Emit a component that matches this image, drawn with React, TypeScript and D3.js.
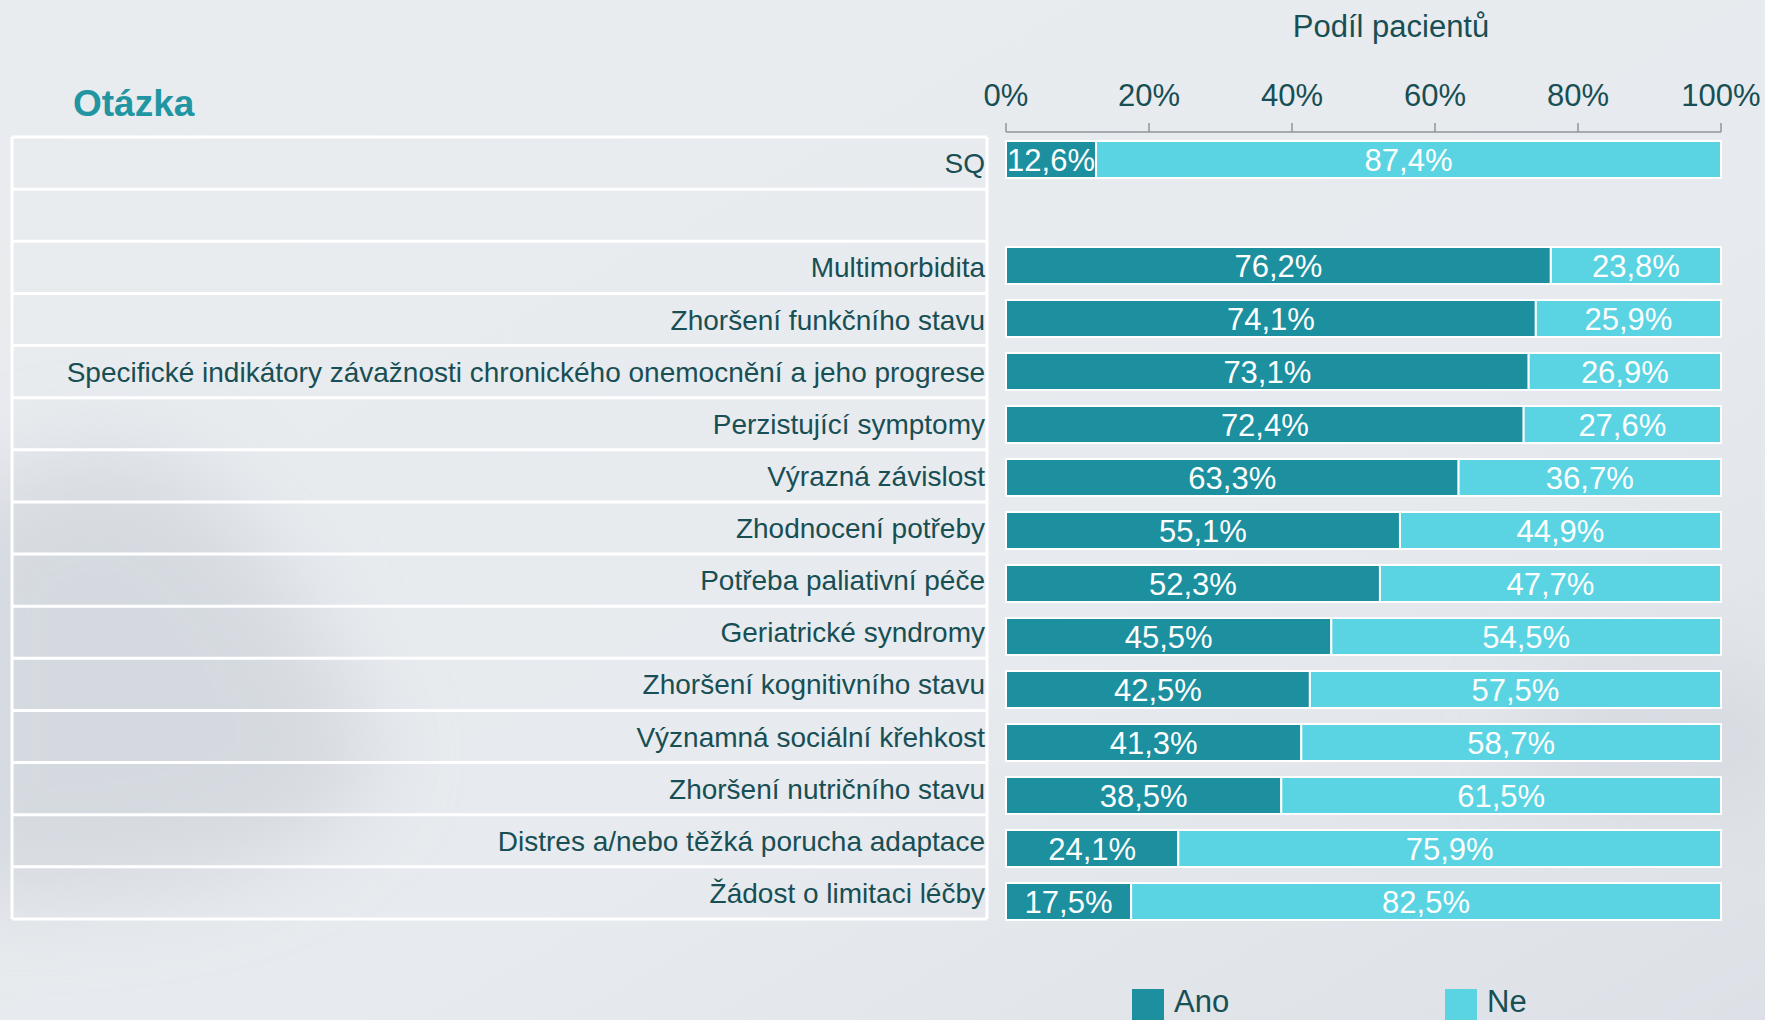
import React, { useEffect, useRef } from "react";
import * as d3 from "d3";

// chart values
const questions = [
  "SQ",
  "",
  "Multimorbidita",
  "Zhoršení funkčního stavu",
  "Specifické indikátory závažnosti chronického onemocnění a jeho progrese",
  "Perzistující symptomy",
  "Výrazná závislost",
  "Zhodnocení potřeby",
  "Potřeba paliativní péče",
  "Geriatrické syndromy",
  "Zhoršení kognitivního stavu",
  "Významná sociální křehkost",
  "Zhoršení nutričního stavu",
  "Distres a/nebo těžká porucha adaptace",
  "Žádost o limitaci léčby",
];
const anoValues = [12.6, null, 76.2, 74.1, 73.1, 72.4, 63.3, 55.1, 52.3, 45.5, 42.5, 41.3, 38.5, 24.1, 17.5];
const neValues = [87.4, null, 23.8, 25.9, 26.9, 27.6, 36.7, 44.9, 47.7, 54.5, 57.5, 58.7, 61.5, 75.9, 82.5];
const tickValues = [0, 20, 40, 60, 80, 100];
const seriesNames = ["Ano", "Ne"];

const W = 1765;
const H = 1020;
const FONT = "'Liberation Sans', Arial, sans-serif";
const TEXT = "#174f54";
const DARK = "#1c909f";
const LIGHT = "#5ad4e2";

const App = () => {
  const svgRef = useRef(null);

  useEffect(() => {
    const svg = d3.select(svgRef.current);
    svg.selectAll("*").remove();

    // background
    const defs = svg.append("defs");
    const bg = defs.append("linearGradient").attr("id", "bg").attr("x1", 0).attr("y1", 0).attr("x2", 1).attr("y2", 1);
    bg.append("stop").attr("offset", "0%").attr("stop-color", "#e9ecef");
    bg.append("stop").attr("offset", "60%").attr("stop-color", "#e7eaee");
    bg.append("stop").attr("offset", "100%").attr("stop-color", "#dde1e7");
    defs.append("filter").attr("id", "blur")
      .attr("x", "-50%").attr("y", "-50%").attr("width", "200%").attr("height", "200%")
      .append("feGaussianBlur").attr("stdDeviation", 45);

    svg.append("rect").attr("width", W).attr("height", H).attr("fill", "url(#bg)");
    // misty hills on the left and right
    svg.append("path")
      .attr("d", "M-60,520 C40,440 140,430 220,500 C280,560 330,650 380,760 C330,860 200,900 -60,900 Z")
      .attr("fill", "#c6ccd4").attr("opacity", 0.55).attr("filter", "url(#blur)");
    svg.append("path")
      .attr("d", "M1540,680 C1620,650 1700,660 1800,690 L1800,800 L1540,800 Z")
      .attr("fill", "#cdd2d9").attr("opacity", 0.5).attr("filter", "url(#blur)");

    const x = d3.scaleLinear().domain([0, 100]).range([1006, 1721]);
    const yBar = d3.scaleBand().domain(questions.map((d, i) => i)).range([133, 928]).paddingInner(0.302).paddingOuter(0.151);
    const yRow = d3.scaleBand().domain(questions.map((d, i) => i)).range([137, 919]);

    // table on the left
    const table = svg.append("g");
    table.selectAll(".row-line")
      .data(d3.range(questions.length + 1))
      .enter()
      .append("line")
      .attr("x1", 12)
      .attr("x2", 987)
      .attr("y1", (d) => 137 + d * yRow.step())
      .attr("y2", (d) => 137 + d * yRow.step())
      .attr("stroke", "#ffffff")
      .attr("stroke-width", 3);
    [12, 987].forEach((xx) => {
      table.append("line")
        .attr("x1", xx).attr("x2", xx)
        .attr("y1", 137).attr("y2", 919)
        .attr("stroke", "#ffffff").attr("stroke-width", 3);
    });
    table.selectAll(".q-label")
      .data(questions)
      .enter()
      .append("text")
      .attr("x", 985)
      .attr("y", (d, i) => yRow(i) + yRow.bandwidth() / 2)
      .attr("dy", "0.36em")
      .attr("text-anchor", "end")
      .attr("font-family", FONT)
      .attr("font-size", 28)
      .attr("fill", TEXT)
      .text((d) => d);

    table.append("text")
      .attr("x", 73).attr("y", 116)
      .attr("font-family", FONT).attr("font-size", 37).attr("font-weight", "bold")
      .attr("fill", "#2196a2")
      .text("Otázka");

    // top axis
    const axis = svg.append("g");
    axis.append("line")
      .attr("x1", x(0)).attr("x2", x(100)).attr("y1", 132).attr("y2", 132)
      .attr("stroke", "#8c9699").attr("stroke-width", 1.5);
    axis.selectAll(".tick")
      .data(tickValues)
      .enter()
      .append("line")
      .attr("x1", (d) => x(d)).attr("x2", (d) => x(d))
      .attr("y1", 123).attr("y2", 132)
      .attr("stroke", "#8c9699").attr("stroke-width", 1.5);
    axis.selectAll(".tick-label")
      .data(tickValues)
      .enter()
      .append("text")
      .attr("x", (d) => x(d))
      .attr("y", 106)
      .attr("text-anchor", "middle")
      .attr("font-family", FONT).attr("font-size", 31)
      .attr("fill", TEXT)
      .text((d) => d + "%");
    axis.append("text")
      .attr("x", 1391).attr("y", 37)
      .attr("text-anchor", "middle")
      .attr("font-family", FONT).attr("font-size", 31)
      .attr("fill", TEXT)
      .text("Podíl pacientů");

    // stacked bars
    const rows = questions
      .map((q, i) => ({ i, ano: anoValues[i], ne: neValues[i] }))
      .filter((d) => d.ano !== null);
    const segs = [];
    rows.forEach((r) => {
      segs.push({ i: r.i, x0: 0, x1: r.ano, v: r.ano, color: DARK });
      segs.push({ i: r.i, x0: r.ano, x1: r.ano + r.ne, v: r.ne, color: LIGHT });
    });
    const bars = svg.append("g");
    bars.selectAll("rect")
      .data(segs)
      .enter()
      .append("rect")
      .attr("x", (d) => x(d.x0))
      .attr("y", (d) => yBar(d.i))
      .attr("width", (d) => x(d.x1) - x(d.x0))
      .attr("height", yBar.bandwidth())
      .attr("fill", (d) => d.color)
      .attr("stroke", "#ffffff")
      .attr("stroke-width", 2);
    bars.selectAll("text")
      .data(segs)
      .enter()
      .append("text")
      .attr("x", (d) => (x(d.x0) + x(d.x1)) / 2)
      .attr("y", (d) => yBar(d.i) + yBar.bandwidth() / 2)
      .attr("dy", "0.37em")
      .attr("text-anchor", "middle")
      .attr("font-family", FONT).attr("font-size", 31)
      .attr("fill", "#ffffff")
      .text((d) => d.v.toFixed(1).replace(".", ",") + "%");

    // legend (sits at the bottom edge of the slide)
    const legend = svg.append("g");
    const lx = [1132, 1445];
    seriesNames.forEach((name, k) => {
      legend.append("rect")
        .attr("x", lx[k]).attr("y", 989).attr("width", 32).attr("height", 32)
        .attr("fill", k === 0 ? DARK : LIGHT);
      legend.append("text")
        .attr("x", lx[k] + 42).attr("y", 1012)
        .attr("font-family", FONT).attr("font-size", 31)
        .attr("fill", TEXT)
        .text(name);
    });
  }, []);

  return (
    <div style={{ position: "absolute", left: 0, top: 0, width: W, height: H, overflow: "hidden" }}>
      <svg ref={svgRef} width={W} height={H}></svg>
    </div>
  );
};

export default App;
